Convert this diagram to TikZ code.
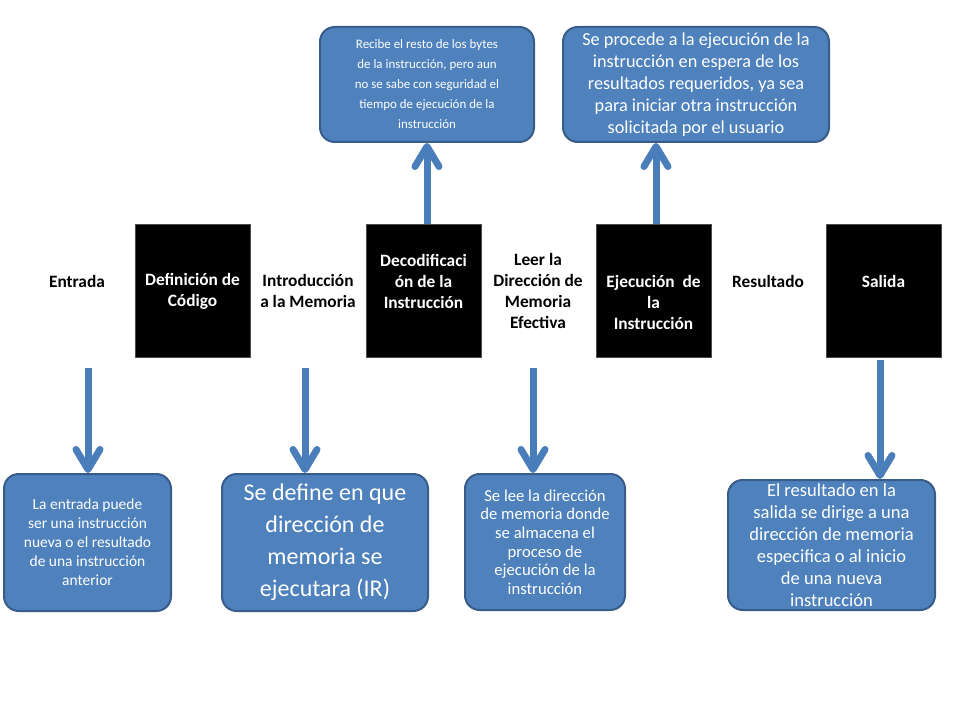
\documentclass[tikz,border=0pt]{standalone}
\usepackage{fontspec}
\setmainfont{Carlito}
\usetikzlibrary{arrows.meta}
\definecolor{boxblue}{RGB}{79,129,189}
\definecolor{boxedge}{RGB}{56,93,138}
\definecolor{arrowblue}{RGB}{74,126,187}
\begin{document}
\begin{tikzpicture}[x=0.75pt,y=-0.75pt,
  stagebox/.style={fill=black,draw=black!70,minimum width=86.25pt,minimum height=99.75pt,inner sep=0pt},
  stagetxt/.style={text=white,font=\bfseries\fontsize{13}{15.75}\selectfont,align=center,inner sep=0pt},
  steplbl/.style={text=black,font=\bfseries\fontsize{13}{15.75}\selectfont,align=center,inner sep=0pt},
  note/.style={fill=boxblue,draw=boxedge,line width=1.5pt,rounded corners=11pt,text=white,align=center,inner sep=0pt},
  flow/.style={draw=arrowblue,line width=5.25pt,-{Straight Barb[length=15pt,width=18pt,round]}}]
\useasboundingbox (0,0) rectangle (960,720);

\node[stagebox] (defc) at (192.5,290.5) {};
\node[stagebox] (deco) at (423.5,290.5) {};
\node[stagebox] (ejec) at (653.5,290.5) {};
\node[stagebox] (sali) at (883.5,290.5) {};

\node[stagetxt] (defc-t) at (192.5,291) {Definición de\\Código};
\node[stagetxt] (deco-t) at (423.5,281) {Decodificaci\\ón de la\\Instrucción};
\node[stagetxt] (ejec-t) at (653.5,302) {Ejecución\ \ de\\la\\Instrucción};
\node[stagetxt] (sali-t) at (883.5,281) {Salida};

\node[steplbl] (entrada) at (77,281) {Entrada};
\node[steplbl] (intro) at (308,291) {Introducción\\a la Memoria};
\node[steplbl] (leer) at (538,291) {Leer la\\Dirección de\\Memoria\\Efectiva};
\node[steplbl] (result) at (768,281) {Resultado};

\node[note,minimum width=160.5pt,minimum height=86.25pt,font=\fontsize{9.7}{15}\selectfont] (recibe) at (427,84.5)
  {Recibe el resto de los bytes\\de la instrucción, pero aun\\no se sabe con seguridad el\\tiempo de ejecución de la\\instrucción};
\node[note,minimum width=199.5pt,minimum height=86.25pt,font=\fontsize{13.7}{16.5}\selectfont] (procede) at (696,84.5)
  {Se procede a la ejecución de la\\instrucción en espera de los\\resultados requeridos, ya sea\\para iniciar otra instrucción\\solicitada por el usuario};
\node[note,minimum width=125.25pt,minimum height=102.75pt,font=\fontsize{11.6}{14.25}\selectfont] (entnota) at (87.5,542.5)
  {La entrada puede\\ser una instrucción\\nueva o el resultado\\de una instrucción\\anterior};
\node[note,minimum width=154.5pt,minimum height=102.75pt,font=\fontsize{18}{24}\selectfont] (defnota) at (325,542.5)
  {Se define en que\\dirección de\\memoria se\\ejecutara (IR)};
\node[note,minimum width=120pt,minimum height=102pt,font=\fontsize{12.5}{14}\selectfont] (leenota) at (545,542)
  {Se lee la dirección\\de memoria donde\\se almacena el\\proceso de\\ejecución de la\\instrucción};
\node[note,minimum width=155.25pt,minimum height=97.5pt,font=\fontsize{13.9}{16.5}\selectfont] (salnota) at (831.5,545)
  {El resultado en la\\salida se dirige a una\\dirección de memoria\\especifica o al inicio\\de una nueva\\instrucción};

\coordinate (d1) at (88,368);
\coordinate (d2) at (305,368);
\coordinate (d3) at (533,368);
\coordinate (d4) at (880,360);
\coordinate (u2) at (656,224);

\draw[flow] (d1) -- (d1 |- entnota.north);
\draw[flow] (d2) -- (d2 |- defnota.north);
\draw[flow] (d3) -- (d3 |- leenota.north);
\draw[flow] (d4) -- (d4 |- salnota.north);
\draw[flow] (recibe.south |- deco.north) -- (recibe.south);
\draw[flow] (u2) -- (u2 |- procede.south);

\end{tikzpicture}
\end{document}
